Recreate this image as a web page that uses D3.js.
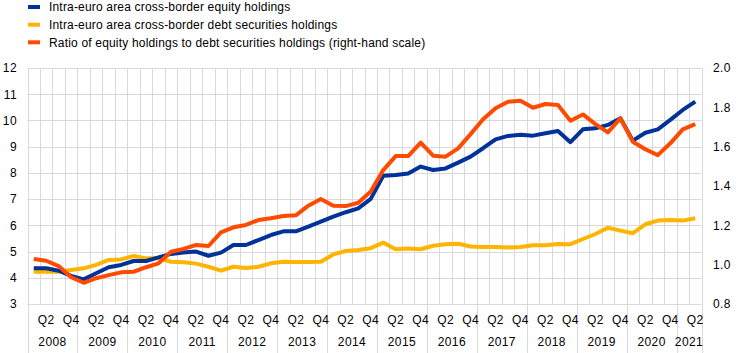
<!DOCTYPE html>
<html>
<head>
<meta charset="utf-8">
<script src="https://cdn.jsdelivr.net/npm/d3@7"></script>
<style>
  html, body { margin: 0; padding: 0; background: #fff; }
  svg { display: block; font-family: "Liberation Sans", Arial, sans-serif; }
</style>
</head>
<body>
<svg id="chart" width="744" height="353"></svg>
<script>
// ---- data ----
const years = ["2008","2009","2010","2011","2012","2013","2014","2015","2016","2017","2018","2019","2020","2021"];
const quarters = [];
years.forEach(y => ["Q1","Q2","Q3","Q4"].forEach(q => { if (!(y === "2021" && (q === "Q3" || q === "Q4"))) quarters.push(y + q); }));

const equityHoldings = [
  4.36, 4.36, 4.27, 4.07, 3.94, 4.17, 4.40, 4.49, 4.64, 4.64, 4.78, 4.91, 4.96, 5.00,
  4.84, 4.96, 5.25, 5.25, 5.44, 5.63, 5.77, 5.77, 5.95, 6.14, 6.33, 6.50, 6.65, 7.01,
  7.89, 7.92, 7.98, 8.24, 8.11, 8.17, 8.39, 8.62, 8.94, 9.28, 9.41, 9.45, 9.42, 9.51,
  9.60, 9.17, 9.66, 9.70, 9.83, 10.08, 9.23, 9.53, 9.66, 10.02, 10.40, 10.72
];
const debtHoldings = [
  4.23, 4.23, 4.23, 4.30, 4.36, 4.49, 4.68, 4.70, 4.83, 4.74, 4.74, 4.61, 4.59, 4.54,
  4.42, 4.27, 4.42, 4.37, 4.42, 4.55, 4.61, 4.60, 4.60, 4.61, 4.89, 5.02, 5.06, 5.13,
  5.34, 5.09, 5.12, 5.09, 5.22, 5.28, 5.30, 5.19, 5.17, 5.17, 5.15, 5.17, 5.24, 5.24,
  5.29, 5.28, 5.48, 5.67, 5.91, 5.80, 5.70, 6.04, 6.18, 6.20, 6.18, 6.27
];
const equityDebtRatio = [
  1.029, 1.020, 0.993, 0.936, 0.908, 0.931, 0.947, 0.961, 0.964, 0.987, 1.007, 1.066, 1.080, 1.100,
  1.095, 1.164, 1.190, 1.202, 1.227, 1.236, 1.247, 1.251, 1.300, 1.334, 1.300, 1.298, 1.315, 1.372,
  1.481, 1.552, 1.552, 1.620, 1.554, 1.549, 1.591, 1.664, 1.739, 1.795, 1.828, 1.834, 1.798, 1.817,
  1.812, 1.732, 1.764, 1.715, 1.673, 1.744, 1.625, 1.587, 1.557, 1.617, 1.688, 1.715
];
const leftTicks = [3,4,5,6,7,8,9,10,11,12];
const rightTicks = [0.8,1.0,1.2,1.4,1.6,1.8,2.0];
const seriesNames = [
  "Intra-euro area cross-border equity holdings",
  "Intra-euro area cross-border debt securities holdings",
  "Ratio of equity holdings to debt securities holdings (right-hand scale)"
];
const colors = ["#003299", "#FFB400", "#FF4B00"];

// ---- layout ----
const svg = d3.select("#chart");
const plot = { left: 27.5, right: 701.5, top: 68, bottom: 304 };

const x = d3.scaleBand().domain(quarters).range([plot.left, plot.right]).padding(0);
const yL = d3.scaleLinear().domain([3, 12]).range([plot.bottom, plot.top]);
const yR = d3.scaleLinear().domain([0.8, 2.0]).range([plot.bottom, plot.top]);
const cx = q => x(q) + x.bandwidth() / 2;

const grid = "#d9d9d9";
const fontSize = "12px";
const textColor = "#000";
const axisSpacing = "0.4px";

// horizontal gridlines
svg.append("g").selectAll("line").data(leftTicks).join("line")
  .attr("x1", plot.left).attr("x2", plot.right)
  .attr("y1", d => Math.round(yL(d)) + 0.5).attr("y2", d => Math.round(yL(d)) + 0.5)
  .attr("stroke", grid).attr("stroke-width", 1);

// vertical gridlines at every quarter boundary
const boundaries = quarters.map(q => x(q)).concat([plot.right]);
svg.append("g").selectAll("line").data(boundaries).join("line")
  .attr("x1", d => Math.round(d) + 0.5).attr("x2", d => Math.round(d) + 0.5)
  .attr("y1", plot.top).attr("y2", plot.bottom)
  .attr("stroke", grid).attr("stroke-width", 1);

// year separators in label area
const yearStarts = years.map(y => x(y + "Q1")).concat([plot.right]);
svg.append("g").selectAll("line").data(yearStarts).join("line")
  .attr("x1", d => Math.round(d) + 0.5).attr("x2", d => Math.round(d) + 0.5)
  .attr("y1", plot.bottom).attr("y2", 353)
  .attr("stroke", grid).attr("stroke-width", 1);

// left axis labels
svg.append("g").selectAll("text").data(leftTicks).join("text")
  .attr("x", 17).attr("y", d => yL(d)).attr("dy", "0.36em")
  .attr("text-anchor", "end").attr("font-size", fontSize).attr("fill", textColor)
  .attr("letter-spacing", axisSpacing)
  .text(d => d);

// right axis labels
svg.append("g").selectAll("text").data(rightTicks).join("text")
  .attr("x", 713).attr("y", d => yR(d)).attr("dy", "0.36em")
  .attr("text-anchor", "start").attr("font-size", fontSize).attr("fill", textColor)
  .attr("letter-spacing", axisSpacing)
  .text(d => d.toFixed(1));

// quarter labels
const qLabels = quarters.filter(q => q.endsWith("Q2") || q.endsWith("Q4"));
svg.append("g").selectAll("text").data(qLabels).join("text")
  .attr("x", d => cx(d)).attr("y", 324)
  .attr("text-anchor", "middle").attr("font-size", fontSize).attr("fill", textColor)
  .attr("letter-spacing", axisSpacing)
  .text(d => d.slice(4));

// year labels
svg.append("g").selectAll("text").data(years).join("text")
  .attr("x", (d, i) => (yearStarts[i] + yearStarts[i + 1]) / 2).attr("y", 346)
  .attr("text-anchor", "middle").attr("font-size", fontSize).attr("fill", textColor)
  .attr("letter-spacing", axisSpacing)
  .text(d => d);

// lines
const lineL = d3.line().x((d, i) => cx(quarters[i])).y(d => yL(d));
const lineR = d3.line().x((d, i) => cx(quarters[i])).y(d => yR(d));
const series = [
  { vals: debtHoldings, gen: lineL, color: colors[1] },
  { vals: equityHoldings, gen: lineL, color: colors[0] },
  { vals: equityDebtRatio, gen: lineR, color: colors[2] }
];
svg.append("g").selectAll("path").data(series).join("path")
  .attr("d", d => d.gen(d.vals))
  .attr("fill", "none").attr("stroke", d => d.color)
  .attr("stroke-width", 4).attr("stroke-linejoin", "round").attr("stroke-linecap", "butt");

// legend
const legendY = [7, 24.7, 42.3];
const lg = svg.append("g").selectAll("g").data(seriesNames).join("g")
  .attr("transform", (d, i) => `translate(0,${legendY[i]})`);
lg.append("line").attr("x1", 28).attr("x2", 40).attr("y1", 0).attr("y2", 0)
  .attr("stroke", (d, i) => colors[i]).attr("stroke-width", 4);
lg.append("text").attr("x", 49).attr("y", 0).attr("dy", "0.36em")
  .attr("font-size", fontSize).attr("fill", textColor).attr("letter-spacing", "0.18px")
  .text(d => d);
</script>
</body>
</html>
